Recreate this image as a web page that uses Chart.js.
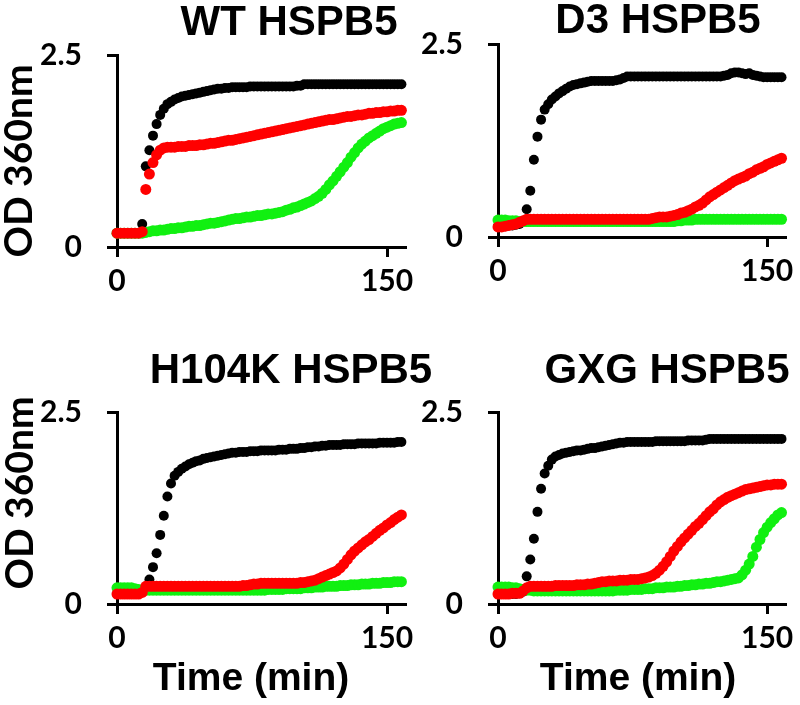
<!DOCTYPE html>
<html>
<head>
<meta charset="utf-8">
<script src="https://cdn.jsdelivr.net/npm/chart.js@4.4.1/dist/chart.umd.min.js"></script>
<style>
  body { margin: 0; background: #fff; }
  #wrap { position: relative; width: 800px; height: 705px; overflow: hidden; }
  canvas { position: absolute; }
</style>
</head>
<body>
<div id="wrap">
  <canvas id="c1" width="450" height="340" style="left:0;top:0"></canvas>
  <canvas id="c2" width="400" height="340" style="left:400px;top:0"></canvas>
  <canvas id="c3" width="450" height="365" style="left:0;top:340px"></canvas>
  <canvas id="c4" width="400" height="365" style="left:400px;top:340px"></canvas>
</div>
<script>
// time points (min), read every 2 min
var timeMin = [0,2,4,6,8,10,12,14,16,18,20,22,24,26,28,30,32,34,36,38,
	40,42,44,46,48,50,52,54,56,58,60,62,64,66,68,70,72,74,76,78,
	80,82,84,86,88,90,92,94,96,98,100,102,104,106,108,110,112,114,116,118,
	120,122,124,126,128,130,132,134,136,138,140,142,144,146,148,150,152,154,156,158];
var xTicks = [0, 150];
var yTicks = [0, 2.5];

// OD 360nm, WT HSPB5
var wtBlack = [0.18,0.18,0.18,0.18,0.18,0.18,0.18,0.30,1.05,1.26,
	1.45,1.60,1.72,1.80,1.86,1.89,1.92,1.94,1.96,1.97,
	1.98,1.99,2.00,2.01,2.02,2.03,2.04,2.05,2.06,2.06,
	2.07,2.07,2.08,2.08,2.08,2.08,2.08,2.09,2.09,2.09,
	2.09,2.09,2.09,2.09,2.09,2.09,2.09,2.09,2.09,2.09,
	2.10,2.10,2.12,2.12,2.12,2.12,2.12,2.12,2.12,2.12,
	2.12,2.12,2.12,2.12,2.12,2.12,2.12,2.12,2.12,2.12,
	2.12,2.12,2.12,2.12,2.12,2.12,2.12,2.12,2.12,2.12];
var wtRed = [0.18,0.18,0.18,0.18,0.18,0.18,0.18,0.20,0.75,0.95,
	1.10,1.20,1.26,1.29,1.30,1.30,1.30,1.31,1.31,1.31,
	1.32,1.32,1.32,1.33,1.33,1.34,1.35,1.35,1.36,1.37,
	1.38,1.39,1.39,1.40,1.41,1.42,1.43,1.44,1.45,1.46,
	1.47,1.48,1.49,1.50,1.51,1.52,1.53,1.54,1.55,1.56,
	1.57,1.58,1.59,1.60,1.61,1.62,1.63,1.64,1.65,1.66,
	1.66,1.67,1.68,1.69,1.70,1.70,1.71,1.72,1.72,1.73,
	1.74,1.74,1.75,1.75,1.76,1.76,1.77,1.77,1.78,1.78];
var wtGreen = [0.18,0.18,0.18,0.18,0.18,0.18,0.18,0.18,0.19,0.20,
	0.21,0.21,0.22,0.22,0.23,0.24,0.24,0.25,0.25,0.26,
	0.27,0.27,0.28,0.28,0.29,0.30,0.31,0.31,0.32,0.33,
	0.34,0.35,0.36,0.37,0.37,0.38,0.39,0.39,0.40,0.41,
	0.41,0.42,0.43,0.43,0.44,0.45,0.46,0.48,0.49,0.51,
	0.52,0.54,0.56,0.58,0.60,0.63,0.66,0.70,0.75,0.81,
	0.86,0.92,0.98,1.04,1.10,1.17,1.23,1.29,1.34,1.38,
	1.42,1.45,1.48,1.51,1.54,1.56,1.58,1.60,1.61,1.62];

// D3 HSPB5
var d3Black = [0.14,0.14,0.14,0.15,0.15,0.16,0.17,0.20,0.36,0.60,
	1.00,1.30,1.52,1.65,1.72,1.78,1.82,1.86,1.89,1.92,
	1.95,1.97,1.98,1.99,2.00,2.01,2.02,2.02,2.02,2.02,
	2.02,2.02,2.02,2.03,2.04,2.06,2.08,2.08,2.08,2.08,
	2.08,2.08,2.08,2.08,2.08,2.08,2.08,2.08,2.08,2.08,
	2.08,2.08,2.08,2.08,2.08,2.08,2.08,2.08,2.08,2.08,
	2.08,2.08,2.08,2.09,2.10,2.12,2.13,2.13,2.12,2.11,
	2.12,2.10,2.09,2.08,2.07,2.07,2.07,2.07,2.07,2.07];
var d3Red = [0.13,0.13,0.14,0.15,0.16,0.17,0.19,0.21,0.23,0.23,
	0.23,0.23,0.23,0.23,0.23,0.23,0.23,0.23,0.23,0.23,
	0.23,0.23,0.23,0.23,0.23,0.23,0.23,0.23,0.23,0.23,
	0.23,0.23,0.23,0.23,0.23,0.23,0.23,0.23,0.23,0.23,
	0.23,0.23,0.23,0.24,0.25,0.26,0.26,0.26,0.27,0.28,
	0.29,0.31,0.32,0.34,0.36,0.39,0.41,0.44,0.48,0.52,
	0.55,0.58,0.61,0.64,0.67,0.70,0.73,0.75,0.77,0.79,
	0.82,0.84,0.87,0.89,0.91,0.94,0.96,0.98,1.00,1.02];
var d3Green = [0.22,0.22,0.22,0.21,0.21,0.21,0.20,0.20,0.20,0.20,
	0.20,0.20,0.20,0.20,0.20,0.20,0.20,0.20,0.20,0.20,
	0.20,0.20,0.20,0.20,0.20,0.20,0.20,0.20,0.20,0.20,
	0.20,0.20,0.20,0.20,0.20,0.20,0.20,0.20,0.20,0.20,
	0.20,0.20,0.20,0.20,0.20,0.20,0.20,0.20,0.20,0.20,
	0.21,0.21,0.22,0.22,0.22,0.23,0.23,0.23,0.23,0.23,
	0.23,0.23,0.23,0.23,0.23,0.23,0.23,0.23,0.23,0.23,
	0.23,0.23,0.23,0.23,0.23,0.23,0.23,0.23,0.23,0.23];

// H104K HSPB5
var hkBlack = [0.13,0.13,0.13,0.13,0.13,0.13,0.14,0.16,0.22,0.32,
	0.48,0.66,0.90,1.15,1.40,1.57,1.67,1.72,1.76,1.79,
	1.82,1.84,1.86,1.87,1.89,1.90,1.91,1.92,1.93,1.94,
	1.95,1.96,1.97,1.97,1.98,1.98,1.98,1.99,1.99,1.99,
	2.00,2.00,2.00,2.00,2.00,2.01,2.01,2.01,2.02,2.02,
	2.02,2.03,2.03,2.04,2.04,2.05,2.05,2.06,2.06,2.07,
	2.07,2.07,2.07,2.08,2.08,2.08,2.08,2.09,2.09,2.09,
	2.09,2.09,2.09,2.10,2.10,2.10,2.10,2.10,2.11,2.11];
var hkRed = [0.13,0.13,0.13,0.13,0.13,0.13,0.13,0.15,0.23,0.23,
	0.23,0.23,0.23,0.23,0.23,0.23,0.23,0.23,0.23,0.23,
	0.23,0.23,0.23,0.23,0.23,0.23,0.23,0.23,0.23,0.23,
	0.23,0.23,0.23,0.23,0.23,0.24,0.24,0.25,0.26,0.26,
	0.27,0.27,0.27,0.27,0.27,0.27,0.27,0.27,0.27,0.27,
	0.27,0.28,0.28,0.29,0.30,0.31,0.33,0.35,0.37,0.39,
	0.41,0.43,0.47,0.52,0.58,0.64,0.69,0.73,0.77,0.81,
	0.84,0.88,0.92,0.96,0.99,1.03,1.06,1.10,1.13,1.16];
var hkGreen = [0.21,0.21,0.21,0.21,0.21,0.20,0.19,0.18,0.18,0.18,
	0.18,0.18,0.18,0.18,0.18,0.18,0.18,0.18,0.18,0.18,
	0.18,0.18,0.18,0.18,0.18,0.18,0.18,0.18,0.18,0.18,
	0.18,0.18,0.18,0.18,0.18,0.18,0.18,0.18,0.18,0.18,
	0.18,0.18,0.19,0.19,0.19,0.19,0.19,0.20,0.20,0.20,
	0.20,0.20,0.21,0.21,0.21,0.22,0.22,0.22,0.23,0.23,
	0.23,0.23,0.24,0.24,0.24,0.25,0.25,0.25,0.26,0.26,
	0.26,0.27,0.27,0.27,0.28,0.28,0.28,0.29,0.29,0.29];

// GXG HSPB5
var gxBlack = [0.13,0.13,0.13,0.13,0.13,0.13,0.14,0.16,0.36,0.58,
	0.85,1.20,1.50,1.70,1.80,1.88,1.92,1.94,1.96,1.97,
	1.98,1.99,2.00,2.00,2.01,2.02,2.03,2.03,2.04,2.05,
	2.06,2.07,2.08,2.09,2.10,2.10,2.11,2.11,2.11,2.11,
	2.11,2.11,2.11,2.11,2.12,2.12,2.12,2.12,2.12,2.12,
	2.12,2.12,2.12,2.13,2.13,2.13,2.13,2.13,2.14,2.15,
	2.15,2.15,2.15,2.15,2.15,2.15,2.15,2.15,2.15,2.15,
	2.15,2.15,2.15,2.15,2.15,2.15,2.15,2.15,2.15,2.15];
var gxRed = [0.13,0.13,0.13,0.13,0.14,0.14,0.14,0.17,0.21,0.23,
	0.23,0.23,0.23,0.23,0.23,0.23,0.24,0.24,0.24,0.24,
	0.24,0.24,0.25,0.25,0.25,0.26,0.26,0.27,0.28,0.29,
	0.29,0.30,0.30,0.30,0.31,0.31,0.31,0.32,0.32,0.32,
	0.33,0.34,0.35,0.37,0.40,0.44,0.49,0.55,0.62,0.69,
	0.75,0.81,0.86,0.91,0.96,1.01,1.05,1.10,1.15,1.20,
	1.24,1.29,1.33,1.36,1.39,1.41,1.43,1.45,1.47,1.49,
	1.50,1.51,1.52,1.53,1.54,1.55,1.55,1.56,1.56,1.56];
var gxGreen = [0.22,0.22,0.22,0.22,0.21,0.21,0.20,0.19,0.18,0.18,
	0.17,0.17,0.17,0.17,0.17,0.17,0.17,0.17,0.17,0.17,
	0.17,0.17,0.17,0.17,0.17,0.17,0.17,0.17,0.17,0.17,
	0.17,0.17,0.17,0.18,0.18,0.18,0.18,0.19,0.19,0.19,
	0.19,0.20,0.20,0.20,0.21,0.21,0.21,0.22,0.22,0.22,
	0.23,0.23,0.24,0.24,0.25,0.25,0.26,0.26,0.27,0.27,
	0.28,0.29,0.29,0.30,0.31,0.32,0.33,0.34,0.38,0.44,
	0.52,0.62,0.74,0.84,0.93,1.00,1.06,1.11,1.16,1.19];

var titleFont = 'bold 42px "Liberation Sans", Arial, sans-serif';
var labelFont = 'bold 39px Lato, sans-serif';
var timeFont = 'bold 39px "Liberation Sans", Arial, sans-serif';
var tickFont = { family: 'Lato', weight: 'bold', size: 30 };

function points(vals) {
	return timeMin.map(function (t, i) { return { x: t, y: vals[i] }; });
}

function series(vals, color, radius, order) {
	return {
		data: points(vals),
		backgroundColor: color,
		borderWidth: 0,
		pointRadius: radius,
		showLine: false,
		clip: false,
		order: order
	};
}

function drawPanel(id, black, red, green, lay, texts) {
	var textPlugin = {
		id: 'panelText',
		afterDraw: function (chart) {
			var ctx = chart.ctx;
			texts.forEach(function (it) {
				ctx.save();
				ctx.translate(it.x, it.y);
				if (it.rot) ctx.rotate(it.rot);
				ctx.font = it.font;
				ctx.fillStyle = '#000';
				ctx.textAlign = 'center';
				ctx.textBaseline = 'alphabetic';
				ctx.fillText(it.text, 0, 0);
				ctx.restore();
			});
		}
	};
	return new Chart(document.getElementById(id), {
		type: 'scatter',
		plugins: [textPlugin],
		data: {
			datasets: [
				series(red, '#ff0000', 5.5, 1),
				series(green, '#11f011', 5.5, 2),
				series(black, '#000000', 5, 3)
			]
		},
		options: {
			responsive: false,
			animation: false,
			events: [],
			layout: { autoPadding: false, padding: lay.pad },
			plugins: { legend: { display: false }, tooltip: { enabled: false } },
			scales: {
				x: {
					type: 'linear', min: 0, max: 160,
					afterBuildTicks: function (s) { s.ticks = xTicks.map(function (v) { return { value: v }; }); },
					afterFit: function (s) { s.height = lay.xh; },
					grid: { drawOnChartArea: false, drawTicks: true, tickLength: 10, lineWidth: 3, tickWidth: 3, tickColor: '#000', color: '#000' },
					border: { display: true, color: '#000', width: 3 },
					ticks: { color: '#000', font: tickFont, padding: 6, maxRotation: 0, autoSkip: false,
						callback: function (v) { return String(v); } }
				},
				y: {
					type: 'linear', min: 0, max: 2.5,
					afterBuildTicks: function (s) { s.ticks = yTicks.map(function (v) { return { value: v }; }); },
					afterFit: function (s) { s.width = lay.yw; },
					grid: { drawOnChartArea: false, drawTicks: true, tickLength: 10, lineWidth: 3, tickWidth: 3, tickColor: '#000', color: '#000' },
					border: { display: true, color: '#000', width: 3 },
					ticks: { color: '#000', font: tickFont, padding: 25, autoSkip: false,
						callback: function (v) { return String(v); } }
				}
			}
		}
	});
}

drawPanel('c1', wtBlack, wtRed, wtGreen,
	{ pad: { top: 55, right: 45, bottom: 0, left: 0 }, yw: 117, xh: 93 },
	[{ text: 'WT HSPB5', x: 289, y: 35, font: titleFont },
	 { text: 'OD 360nm', x: 32, y: 161, rot: -Math.PI / 2, font: labelFont }]);
drawPanel('c2', d3Black, d3Red, d3Green,
	{ pad: { top: 44, right: 12, bottom: 0, left: 0 }, yw: 98, xh: 103 },
	[{ text: 'D3 HSPB5', x: 258, y: 33, font: titleFont }]);
drawPanel('c3', hkBlack, hkRed, hkGreen,
	{ pad: { top: 72, right: 45, bottom: 0, left: 0 }, yw: 117, xh: 101 },
	[{ text: 'H104K HSPB5', x: 291, y: 43, font: titleFont },
	 { text: 'OD 360nm', x: 33, y: 153, rot: -Math.PI / 2, font: labelFont },
	 { text: 'Time (min)', x: 251, y: 350, font: timeFont }]);
drawPanel('c4', gxBlack, gxRed, gxGreen,
	{ pad: { top: 72, right: 12, bottom: 0, left: 0 }, yw: 98, xh: 101 },
	[{ text: 'GXG HSPB5', x: 267, y: 43, font: titleFont },
	 { text: 'Time (min)', x: 238, y: 350, font: timeFont }]);
</script>
</body>
</html>
